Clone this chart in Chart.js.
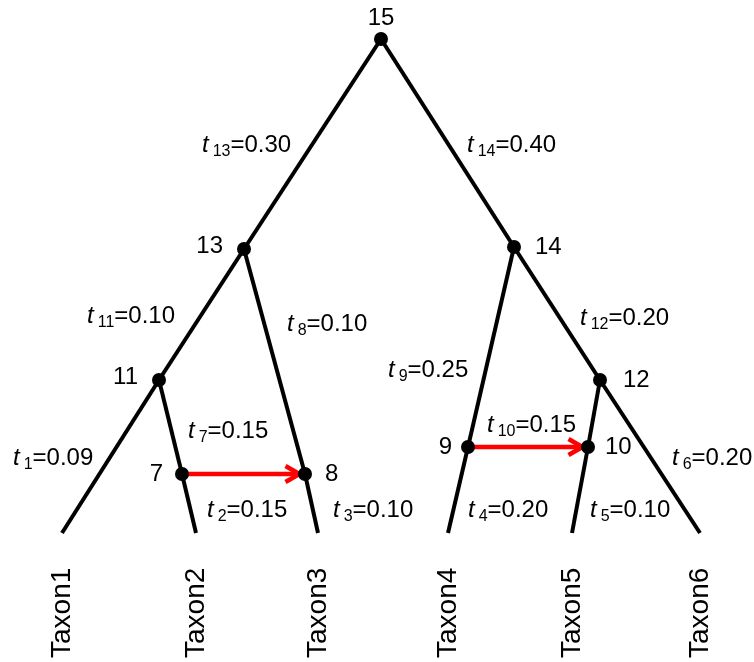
<!DOCTYPE html>
<html>
<head>
<meta charset="utf-8">
<title>Species tree with transfer events</title>
<script src="https://cdn.jsdelivr.net/npm/chart.js@4/dist/chart.umd.min.js"></script>
<style>
  html, body { margin: 0; padding: 0; background: #ffffff; }
  #wrap { position: relative; width: 754px; height: 662px; }
</style>
</head>
<body>
<div id="wrap"><canvas id="tree"></canvas></div>
<script>
// ---- Tree data -------------------------------------------------------------
// Nodes are numbered 1..15; nodes 1..6 are the tips (Taxon1..Taxon6).
// Layout position of each node (index = node number - 1): horizontal slot and
// height above the tips (the drawing is not to scale with branch lengths).
const tipNames   = ['Taxon1', 'Taxon2', 'Taxon3', 'Taxon4', 'Taxon5', 'Taxon6'];
const nodeX      = [62, 196, 318, 448, 572, 700, 182, 305, 468, 588, 159, 600, 244, 514, 381];
const nodeHeight = [0, 0, 0, 0, 0, 0, 59, 59, 86, 86, 153, 153, 284, 286, 494];

// Branch i joins node i to its parent and has length t_i.
const parentNode   = [11, 7, 8, 9, 10, 12, 11, 13, 14, 12, 13, 14, 15, 15];
const branchLength = [0.09, 0.15, 0.10, 0.20, 0.10, 0.20, 0.15, 0.10, 0.25, 0.15, 0.10, 0.20, 0.30, 0.40];

// Horizontal transfer events (donor node -> recipient node).
const transferFrom = [7, 9];
const transferTo   = [8, 10];

// ---- Presentation ------------------------------------------------------------
const FONT = '"Liberation Sans", Arial, Helvetica, sans-serif';
const style = {
  branchColor: '#000000',
  branchWidth: 4,
  transferColor: '#ff0000',
  transferWidth: 4.5,
  nodeRadius: 7,
  arrowBack: 14,
  arrowHalf: 8,
  arrowInset: 5.5,
  labelSize: 24,
  subSize: 16,
  taxonSize: 28
};

// Where each branch label sits: [left x, baseline height] in tree coordinates.
const branchLabelAt = {
  1: [13, 68],   2: [207, 16],  3: [333, 16],  4: [468, 16],  5: [590, 16],
  6: [672, 68],  7: [188, 95],  8: [287, 202], 9: [388, 156], 10: [487, 101],
  11: [87, 210], 12: [580, 208], 13: [202, 381], 14: [467, 381]
};
// Node number labels: side of the dot, pixel gap from its centre, vertical nudge.
const nodeLabelAt = {
  7: ['left', 19, 0],  8: ['right', 20, 0], 9: ['left', 16, 0], 10: ['right', 17, 0],
  11: ['left', 21, -3], 12: ['right', 23, 0], 13: ['left', 21, -3], 14: ['right', 21, 0],
  15: ['top', 14, 0]
};

const pt = n => ({ x: nodeX[n - 1], y: nodeHeight[n - 1] });

// ---- Datasets ----------------------------------------------------------------
const datasets = [];

// Internal node dots, drawn on top of everything else.
const internal = [];
for (let n = tipNames.length + 1; n <= nodeX.length; n++) internal.push(pt(n));
datasets.push({
  type: 'scatter',
  label: 'nodes',
  data: internal,
  pointRadius: style.nodeRadius,
  pointBackgroundColor: '#000',
  pointBorderWidth: 0,
  clip: false,
  order: 0
});

// Transfer arrows.
transferFrom.forEach((from, i) => {
  datasets.push({
    type: 'line',
    label: 'transfer',
    data: [pt(from), pt(transferTo[i])],
    borderColor: style.transferColor,
    borderWidth: style.transferWidth,
    pointRadius: 0,
    fill: false,
    clip: false,
    order: 1
  });
});

// Branches.
parentNode.forEach((p, i) => {
  datasets.push({
    type: 'line',
    label: 'branch',
    data: [pt(p), pt(i + 1)],
    borderColor: style.branchColor,
    borderWidth: style.branchWidth,
    borderCapStyle: 'butt',
    pointRadius: 0,
    fill: false,
    clip: false,
    order: 2
  });
});

// ---- Plugins -----------------------------------------------------------------
const arrowHeads = {
  id: 'arrowHeads',
  afterDatasetDraw(chart, args) {
    const ds = chart.data.datasets[args.index];
    if (ds.label !== 'transfer') return;
    const [a, b] = args.meta.data;
    const dx = b.x - a.x, dy = b.y - a.y;
    const len = Math.hypot(dx, dy);
    const ux = dx / len, uy = dy / len;
    const tx = b.x - ux * style.arrowInset, ty = b.y - uy * style.arrowInset;
    const bx = tx - ux * style.arrowBack, by = ty - uy * style.arrowBack;
    const ctx = chart.ctx;
    ctx.save();
    ctx.strokeStyle = ds.borderColor;
    ctx.lineWidth = ds.borderWidth;
    ctx.lineJoin = 'miter';
    ctx.lineCap = 'butt';
    ctx.beginPath();
    ctx.moveTo(bx - uy * style.arrowHalf, by + ux * style.arrowHalf);
    ctx.lineTo(tx, ty);
    ctx.lineTo(bx + uy * style.arrowHalf, by - ux * style.arrowHalf);
    ctx.stroke();
    ctx.restore();
  }
};

const treeLabels = {
  id: 'treeLabels',
  afterDraw(chart) {
    const ctx = chart.ctx;
    const xs = chart.scales.x, ys = chart.scales.y;
    ctx.save();
    ctx.fillStyle = '#000';

    // Node numbers.
    ctx.font = style.labelSize + 'px ' + FONT;
    Object.keys(nodeLabelAt).forEach(k => {
      const n = +k;
      const [side, gap, dy] = nodeLabelAt[n];
      const px = xs.getPixelForValue(nodeX[n - 1]);
      const py = ys.getPixelForValue(nodeHeight[n - 1]);
      if (side === 'top') {
        ctx.textAlign = 'center';
        ctx.textBaseline = 'alphabetic';
        ctx.fillText(String(n), px, py - gap);
      } else {
        ctx.textBaseline = 'middle';
        ctx.textAlign = side === 'left' ? 'right' : 'left';
        ctx.fillText(String(n), side === 'left' ? px - gap : px + gap, py + dy);
      }
    });

    // Branch lengths: italic t, subscript index, value.
    ctx.textAlign = 'left';
    ctx.textBaseline = 'alphabetic';
    branchLength.forEach((v, i) => {
      const idx = i + 1;
      const [lx, lh] = branchLabelAt[idx];
      let x = xs.getPixelForValue(lx);
      const y = ys.getPixelForValue(lh);
      ctx.font = 'italic ' + style.labelSize + 'px ' + FONT;
      ctx.fillText('t', x, y);
      x += ctx.measureText('t').width + 4;
      ctx.font = style.subSize + 'px ' + FONT;
      ctx.fillText(String(idx), x, y + 4);
      x += ctx.measureText(String(idx)).width;
      ctx.font = style.labelSize + 'px ' + FONT;
      ctx.fillText('=' + v.toFixed(2), x, y);
    });

    // Tip names, rotated to read upwards.
    ctx.font = style.taxonSize + 'px ' + FONT;
    ctx.textAlign = 'left';
    ctx.textBaseline = 'alphabetic';
    tipNames.forEach((name, i) => {
      const px = xs.getPixelForValue(nodeX[i]) + 8;
      const py = ys.getPixelForValue(nodeHeight[i]) + 125;
      ctx.save();
      ctx.translate(px, py);
      ctx.rotate(-Math.PI / 2);
      ctx.fillText(name, 0, 0);
      ctx.restore();
    });
    ctx.restore();
  }
};

// ---- Chart -------------------------------------------------------------------
new Chart(document.getElementById('tree'), {
  type: 'scatter',
  data: { datasets },
  options: {
    responsive: true,
    maintainAspectRatio: false,
    animation: false,
    events: [],
    layout: { padding: 0, autoPadding: false },
    plugins: { legend: { display: false }, tooltip: { enabled: false } },
    scales: {
      x: { type: 'linear', display: false, min: 0, max: 754 },
      y: { type: 'linear', display: false, min: -129, max: 533 }
    }
  },
  plugins: [arrowHeads, treeLabels]
});
</script>
</body>
</html>
